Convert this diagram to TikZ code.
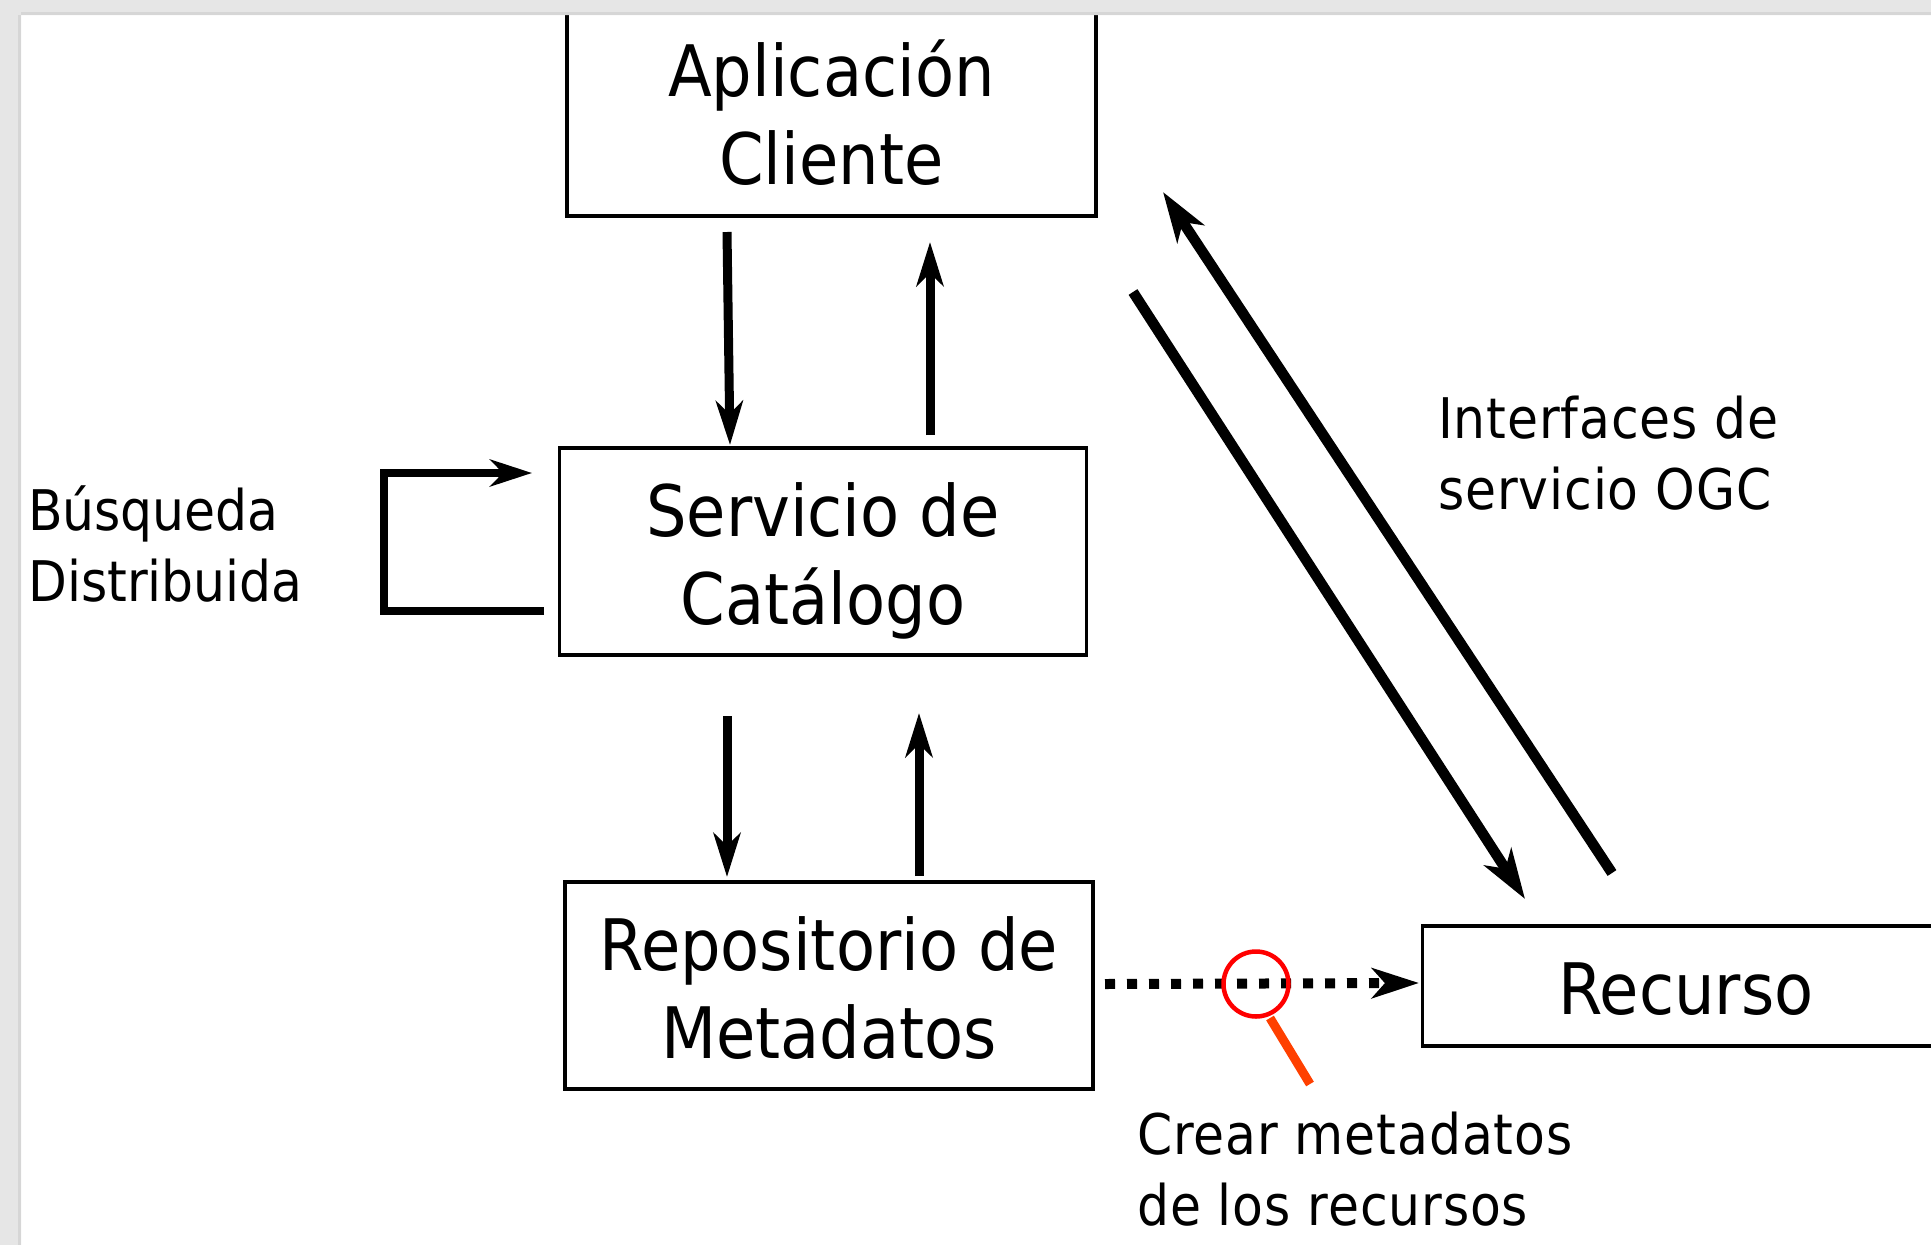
\documentclass[tikz,border=0pt]{standalone}
\usepackage{fontspec}
\setmainfont{DejaVu Sans Condensed}
\newfontfamily\spacedfont[LetterSpace=1.6]{DejaVu Sans Condensed}
\usetikzlibrary{arrows.meta}
\definecolor{framegray}{HTML}{E6E6E6}
\definecolor{frameedge}{HTML}{D6D6D6}
\definecolor{handle}{HTML}{FF4000}
\tikzset{
  boxnode/.style={draw=black,line width=3.2pt,fill=white,inner sep=0pt},
  boxtext/.style={inner sep=0pt,align=center,font=\fontsize{71}{88}\selectfont},
  lab/.style={anchor=west,align=left,inner sep=0pt,font=\fontsize{56}{71}\selectfont},
  labs/.style={anchor=west,align=left,inner sep=0pt,font=\fontsize{56}{71}\spacedfont},
  arr/.style={line width=9pt,-{Stealth[length=44pt,width=27pt,inset=13pt]}},
  diag/.style={line width=10.5pt,-{Stealth[length=50pt,width=32pt,inset=14pt]}},
}
\begin{document}
\begin{tikzpicture}[x=1pt,y=-1pt]
\useasboundingbox (0,0) rectangle (1931,1245);
\fill[white] (0,0) rectangle (1931,1245);
% boxes
\node[boxnode,minimum width=529pt,minimum height=204pt] (app) at (831.5,114) {};
\node[boxnode,minimum width=527pt,minimum height=207pt] (serv) at (823,551.5) {};
\node[boxnode,minimum width=528pt,minimum height=207pt] (repo) at (829,985.5) {};
\node[boxnode,minimum width=528pt,minimum height=120pt] (rec) at (1686.5,986) {};
\node[boxtext] (appt) at (831.5,113) {Aplicación\\Cliente};
\node[boxtext] (servt) at (823,561) {Servicio de\\Catálogo};
\node[boxtext] (repot) at (829,988) {Repositorio de\\Metadatos};
\node[boxtext] (rect) at (1686,989) {Recurso};
% labels
\node[lab] (busq) at (28,544) {Búsqueda\\Distribuida};
\node[labs] (intf) at (1438,453) {Interfaces de\\servicio OGC};
\node[labs] (crear) at (1137,1169) {Crear metadatos\\de los recursos};
% free ends
\coordinate (a1) at (727,232); \coordinate (a2) at (730,445);
\coordinate (b1) at (930,435); \coordinate (b2) at (930,242);
\coordinate (c1) at (727,716); \coordinate (c2) at (727,877);
\coordinate (d1) at (919,876); \coordinate (d2) at (919,713);
\coordinate (e1) at (1612,873); \coordinate (e2) at (1163,192);
\coordinate (f1) at (1133,292); \coordinate (f2) at (1525,899);
\coordinate (g1) at (544,611); \coordinate (g2) at (384,611); \coordinate (g3) at (384,473); \coordinate (g4) at (532,473);
\coordinate (h1) at (1105,984); \coordinate (h2) at (1419,983);
\coordinate (m1) at (1270,1018); \coordinate (m2) at (1310,1084);
% connectors
\draw[arr] (a1) -- (a2);
\draw[arr] (b1) -- (b2);
\draw[arr] (c1) -- (c2);
\draw[arr] (d1) -- (d2);
\draw[diag] (e1) -- (e2);
\draw[diag] (f1) -- (f2);
\draw[line width=8pt,miter limit=10,-{Stealth[length=42pt,width=27pt,inset=13pt]}] (g1) -- (g2) -- (g3) -- (g4);
\draw[line width=10pt,dash pattern=on 10pt off 12pt,-{Stealth[length=47pt,width=30pt,inset=13pt]}] (h1) -- (h2);
% magnifier
\node[draw=red,line width=4.5pt,circle,minimum size=65pt,inner sep=0pt] (lens) at (1256,984) {};
\draw[handle,line width=9pt] (m1) -- (m2);
% frame
\fill[framegray,even odd rule] (0,0) rectangle (1931,1245) (21,15) rectangle (1940,1255);
\fill[frameedge] (21,12) rectangle (1931,15);
\fill[frameedge] (18,15) rectangle (21,1245);
\end{tikzpicture}
\end{document}
